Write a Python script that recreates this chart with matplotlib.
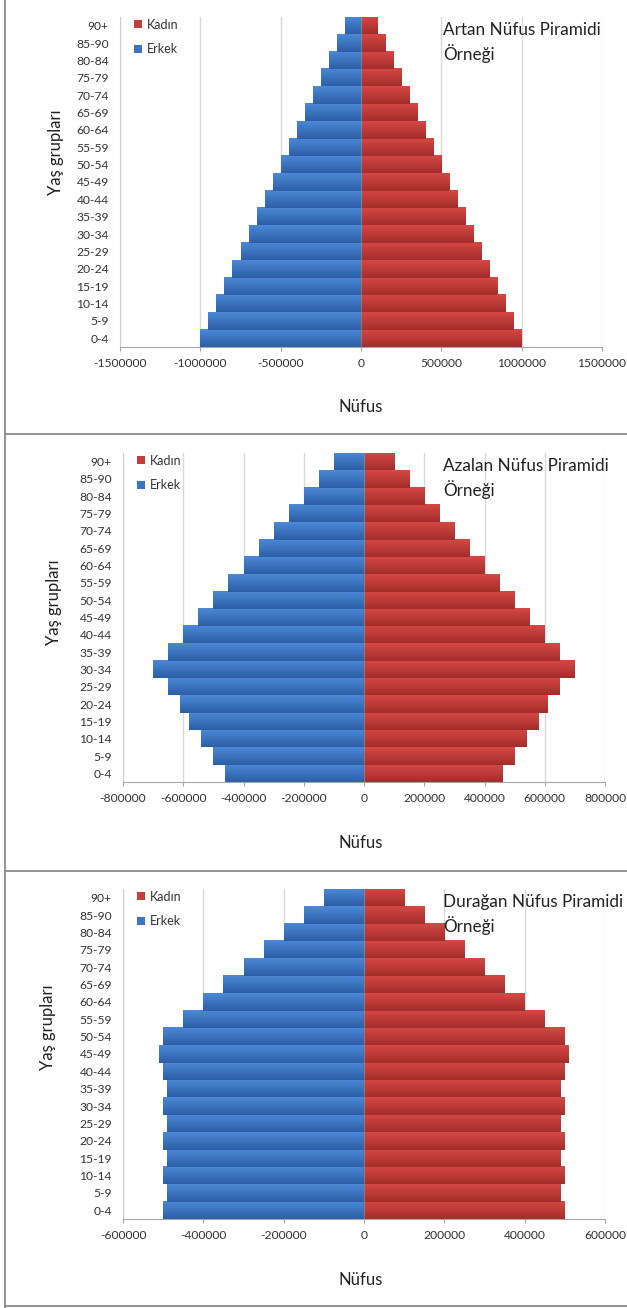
#!/usr/bin/env python3
# -*- coding: utf-8 -*-
# Three population pyramids (artan / azalan / duragan) stacked on one page.
import matplotlib
matplotlib.use("Agg")
import matplotlib.pyplot as plt
import numpy as np
from matplotlib.lines import Line2D
from matplotlib.ticker import FuncFormatter

plt.rcParams['font.family'] = ['Lato', 'DejaVu Sans']
plt.rcParams['axes.unicode_minus'] = False

#-------------------DATA----------------------------------------
ages = ['0-4', '5-9', '10-14', '15-19', '20-24', '25-29', '30-34', '35-39',
        '40-44', '45-49', '50-54', '55-59', '60-64', '65-69', '70-74',
        '75-79', '80-84', '85-90', '90+']

artan_kadin = [1000000, 950000, 900000, 850000, 800000, 750000, 700000, 650000,
               600000, 550000, 500000, 450000, 400000, 350000, 300000,
               250000, 200000, 150000, 100000]
artan_erkek = [1000000, 950000, 900000, 850000, 800000, 750000, 700000, 650000,
               600000, 550000, 500000, 450000, 400000, 350000, 300000,
               250000, 200000, 150000, 100000]

azalan_kadin = [460000, 500000, 540000, 580000, 610000, 650000, 700000, 650000,
                600000, 550000, 500000, 450000, 400000, 350000, 300000,
                250000, 200000, 150000, 100000]
azalan_erkek = [460000, 500000, 540000, 580000, 610000, 650000, 700000, 650000,
                600000, 550000, 500000, 450000, 400000, 350000, 300000,
                250000, 200000, 150000, 100000]

duragan_kadin = [500000, 490000, 500000, 490000, 500000, 490000, 500000, 490000,
                 500000, 510000, 500000, 450000, 400000, 350000, 300000,
                 250000, 200000, 150000, 100000]
duragan_erkek = [500000, 490000, 500000, 490000, 500000, 490000, 500000, 490000,
                 500000, 510000, 500000, 450000, 400000, 350000, 300000,
                 250000, 200000, 150000, 100000]

titles = ['Artan Nüfus Piramidi\nÖrneği',
          'Azalan Nüfus Piramidi\nÖrneği',
          'Durağan Nüfus Piramidi\nÖrneği']
limits = [1500000, 800000, 600000]
steps = [500000, 200000, 200000]

W, H = 627, 1308

#axes boxes in pixels: left, top, right, bottom
boxes = [(120, 17, 602, 347), (123, 453, 605, 782), (123, 889, 605, 1219)]
ylabel_pos = [(-0.116, 0.59), (-0.126, 0.547), (-0.139, 0.58)]
xlabel_y = [407, 843, 1280]

blue_top, blue_bot = np.array([0x4C, 0x88, 0xD6]) / 255, np.array([0x2C, 0x5F, 0xA6]) / 255
red_top, red_bot = np.array([0xD6, 0x48, 0x44]) / 255, np.array([0xA3, 0x2D, 0x2B]) / 255


#paint an Excel like vertical gradient over every bar of a container
def shade(ax, bars, top, bot):
    g = np.linspace(0, 1, 40)[:, None, None]
    img = top * (1 - g) + bot * g
    for b in bars:
        x0, x1 = sorted([b.get_x(), b.get_x() + b.get_width()])
        y0, y1 = b.get_y(), b.get_y() + b.get_height()
        ax.imshow(img, extent=[x0, x1, y0, y1], origin='upper',
                  aspect='auto', zorder=2, interpolation='bilinear')


fig = plt.figure(figsize=(W / 100, H / 100), dpi=100)

data = [(artan_kadin, artan_erkek), (azalan_kadin, azalan_erkek),
        (duragan_kadin, duragan_erkek)]

for i, (kadin, erkek) in enumerate(data):
    l, t, r, b = boxes[i]
    ax = fig.add_axes([l / W, 1 - b / H, (r - l) / W, (b - t) / H])
    y = np.arange(len(ages))

    kb = ax.barh(y, kadin, height=1.0, color='#C83C3A', label='Kadın', zorder=1)
    eb = ax.barh(y, -np.array(erkek), height=1.0, color='#3A74C2', label='Erkek', zorder=1)
    shade(ax, kb, red_top, red_bot)
    shade(ax, eb, blue_top, blue_bot)

    lim = limits[i]
    ax.set_xlim(-lim, lim)
    ax.set_ylim(-0.5, len(ages) - 0.5)
    ax.set_xticks(np.arange(-lim, lim + 1, steps[i]))
    ax.xaxis.set_major_formatter(FuncFormatter(lambda v, p: '%d' % v))
    ax.set_yticks(y)
    ax.set_yticklabels(ages)

    #grid, axis line at zero drawn over the bars
    ax.grid(axis='x', color='#D9D9D9', linewidth=1, zorder=0)
    ax.set_axisbelow(True)
    ax.axvline(0, color='#8C8C8C', linewidth=0.8, alpha=0.7, zorder=3)

    for s in ['top', 'right']:
        ax.spines[s].set_visible(False)
    ax.spines['left'].set_color('#D0D0D0')
    ax.spines['bottom'].set_color('#A6A6A6')
    ax.tick_params(axis='y', length=0, pad=8, labelsize=8.7, labelcolor='#333333')
    ax.tick_params(axis='x', length=3, color='#A6A6A6', pad=5, labelsize=8.7,
                   labelcolor='#333333')

    ax.set_ylabel('Yaş grupları', fontsize=12, color='#222222')
    ax.yaxis.set_label_coords(*ylabel_pos[i])
    fig.text(361 / W, 1 - xlabel_y[i] / H, 'Nüfus', fontsize=12, color='#222222',
             ha='center', va='center')

    ax.text(443 / W, 1 - (t + 5) / H, titles[i], transform=fig.transFigure,
            fontsize=12.3, color='#222222', ha='left', va='top', linespacing=1.4)

    leg = ax.legend(handles=[kb, eb], loc='upper left', bbox_to_anchor=(0.03, 0.995),
                    frameon=False, fontsize=9, handlelength=0.6, handleheight=0.6,
                    handletextpad=0.4, labelspacing=1.0, borderpad=0, borderaxespad=0)
    for txt in leg.get_texts():
        txt.set_color('#333333')

#panel frames
def hline(yp):
    fig.add_artist(Line2D([5 / W, 1], [1 - yp / H, 1 - yp / H], color='#8A8A8A', linewidth=1.3))

for yp in [434, 871, 1306]:
    hline(yp)
fig.add_artist(Line2D([5 / W, 5 / W], [0, 1], color='#8A8A8A', linewidth=1.3))

fig.savefig('out.png', dpi=100)
